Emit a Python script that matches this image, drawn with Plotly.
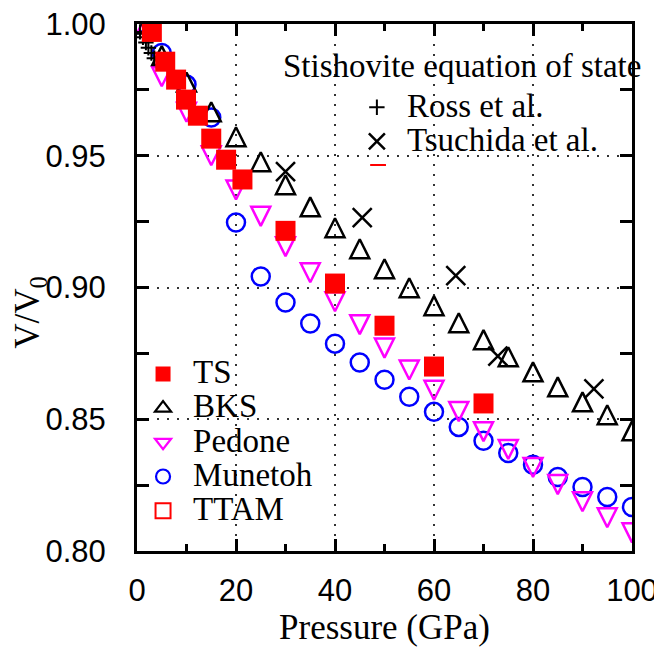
import plotly.graph_objects as go

# ---------------- data ----------------
P_TS = [3.0, 5.7, 7.9, 9.9, 12.3, 15.0, 18.0, 21.3, 30.0, 40.0, 50.0, 60.0, 70.0]
V_TS = [0.997, 0.9857, 0.9789, 0.9713, 0.9652, 0.9565, 0.9485, 0.941, 0.9215, 0.9015, 0.8855, 0.870, 0.856]

P_GRID = [0, 5, 10, 15, 20, 25, 30, 35, 40, 45, 50, 55, 60, 65, 70, 75, 80, 85, 90, 95, 100]
V_BKS = [1.0, 0.988, 0.978, 0.9667, 0.9572, 0.9477, 0.939, 0.9306, 0.9227, 0.9147, 0.9071,
         0.8999, 0.8931, 0.8866, 0.8802, 0.8737, 0.868, 0.8623, 0.8566, 0.8517, 0.8456]
V_PEDONE = [1.0, 0.980, 0.9665, 0.950, 0.937, 0.927, 0.9155, 0.9056, 0.8946, 0.8859, 0.877,
            0.8687, 0.861, 0.8529, 0.8453, 0.8385, 0.8317, 0.8252, 0.8187, 0.8126, 0.8069]
V_MUNETOH = [1.0, 0.989, 0.977, 0.9645, 0.9247, 0.9042, 0.8943, 0.8863, 0.8787, 0.8715, 0.865,
             0.8585, 0.8528, 0.8471, 0.8418, 0.8372, 0.8327, 0.8281, 0.8243, 0.8205, 0.8167]

P_ROSS = [0.6, 1.2, 1.8, 2.3, 2.9, 3.5]
V_ROSS = [0.997, 0.995, 0.993, 0.991, 0.989, 0.987]

P_TSUCHIDA = [30.0, 45.5, 64.4, 72.9, 92.3]
V_TSUCHIDA = [0.944, 0.9265, 0.9045, 0.874, 0.8615]

X_TICKS = [0, 20, 40, 60, 80, 100]
X_MINOR = [10, 30, 50, 70, 90]
Y_TICKS = [0.80, 0.85, 0.90, 0.95, 1.00]
Y_TICK_TEXT = ["0.80", "0.85", "0.90", "0.95", "1.00"]
Y_MINOR = [0.825, 0.875, 0.925, 0.975]

SERIF = "Liberation Serif"
SANS = "Liberation Sans"


def lbl(t):
    return '<span style="font-size:33px">' + t + '</span>'


fig = go.Figure()

# ---- data traces (drawing order: Munetoh, Pedone, BKS, Ross, Tsuchida, TS) ----
fig.add_trace(go.Scatter(
    x=P_GRID, y=V_MUNETOH, mode="markers", name="Munetoh", showlegend=False,
    marker=dict(symbol="circle-open", size=18, color="#0000ff", line=dict(width=2.5, color="#0000ff")),
))
fig.add_trace(go.Scatter(
    x=P_GRID, y=V_PEDONE, mode="markers", name="Pedone", showlegend=False,
    marker=dict(symbol="arrow-down-open", size=19, angle=0, standoff=9.5, color="#ff00ff",
                line=dict(width=2.5, color="#ff00ff")),
))
fig.add_trace(go.Scatter(
    x=P_GRID, y=V_BKS, mode="markers", name="BKS", showlegend=False,
    marker=dict(symbol="arrow-down-open", size=19, angle=180, standoff=9.5, color="black",
                line=dict(width=2.5, color="black")),
))
fig.add_trace(go.Scatter(
    x=P_ROSS, y=V_ROSS, mode="markers", name=lbl("Ross et al."), legend="legend2", legendrank=1,
    marker=dict(symbol="cross-thin-open", size=11, color="black", line=dict(width=2, color="black")),
))
fig.add_trace(go.Scatter(
    x=P_TSUCHIDA, y=V_TSUCHIDA, mode="markers", name=lbl("Tsuchida et al."), legend="legend2", legendrank=2,
    marker=dict(symbol="x-thin-open", size=19, color="black", line=dict(width=2.5, color="black")),
))
fig.add_trace(go.Scatter(
    x=P_TS, y=V_TS, mode="markers", name="TS", showlegend=False,
    marker=dict(symbol="square", size=20, color="#ff0000", line=dict(width=0)),
))

# ---- legend keys (no data of their own) ----
fig.add_trace(go.Scatter(
    x=[None], y=[None], mode="markers", name=lbl("TS"), legendrank=1,
    marker=dict(symbol="square", size=15, color="#ff0000", line=dict(width=0)),
))
fig.add_trace(go.Scatter(
    x=[None], y=[None], mode="markers", name=lbl("BKS"), legendrank=2,
    marker=dict(symbol="triangle-up-open", size=14, color="black", line=dict(width=2.2, color="black")),
))
fig.add_trace(go.Scatter(
    x=[None], y=[None], mode="markers", name=lbl("Pedone"), legendrank=3,
    marker=dict(symbol="triangle-down-open", size=14, color="#ff00ff", line=dict(width=2.2, color="#ff00ff")),
))
fig.add_trace(go.Scatter(
    x=[None], y=[None], mode="markers", name=lbl("Munetoh"), legendrank=4,
    marker=dict(symbol="circle-open", size=14, color="#0000ff", line=dict(width=2.2, color="#0000ff")),
))
fig.add_trace(go.Scatter(
    x=[None], y=[None], mode="markers", name=lbl("TTAM"), legendrank=5,
    marker=dict(symbol="square-open", size=15, color="#ff0000", line=dict(width=2, color="#ff0000")),
))

axis_common = dict(
    showline=True, linewidth=3, linecolor="black", mirror="allticks",
    ticks="inside", ticklen=12, tickwidth=2.5, tickcolor="black",
    showgrid=True, gridcolor="#333333", gridwidth=1.5, griddash="2px,8px",
    zeroline=False, ticklabeloverflow="allow",
)

fig.update_xaxes(
    range=[0, 100], tickmode="array", tickvals=X_TICKS,
    tickfont=dict(family=SANS, size=31, color="black"), ticklabelstandoff=10,
    minor=dict(tickmode="array", tickvals=X_MINOR, ticks="inside", ticklen=7, tickwidth=2.5,
               tickcolor="black", showgrid=False),
    title=dict(text="Pressure (GPa)", font=dict(family=SERIF, size=35, color="black"), standoff=8),
    **axis_common,
)
fig.update_yaxes(
    range=[0.80, 1.00], tickmode="array", tickvals=Y_TICKS, ticktext=Y_TICK_TEXT,
    tickfont=dict(family=SANS, size=31, color="black"), ticklabelstandoff=22,
    minor=dict(tickmode="array", tickvals=Y_MINOR, ticks="inside", ticklen=12, tickwidth=2.5,
               tickcolor="black", showgrid=False),
    **axis_common,
)

legend_common = dict(
    xanchor="left", yanchor="top", bgcolor="rgba(0,0,0,0)", borderwidth=0,
    font=dict(family=SERIF, size=24, color="black"), itemwidth=50,
    tracegroupgap=0, traceorder="normal",
)

fig.update_layout(
    width=654, height=639,
    margin=dict(l=129, r=30, t=16, b=96, autoexpand=False),
    paper_bgcolor="white", plot_bgcolor="white",
    showlegend=True,
    legend=dict(x=-0.008, y=0.378, **legend_common),
    legend2=dict(x=0.424, y=0.884, **legend_common),
    annotations=[
        dict(
            text="Stishovite equation of state", xref="paper", yref="paper",
            x=1.022, y=0.92, xanchor="right", yanchor="middle", showarrow=False,
            font=dict(family=SERIF, size=33, color="black"),
        ),
        dict(
            text="V/V<sub>0</sub>", xref="paper", yref="paper", textangle=-90,
            x=-0.217, y=0.453, xanchor="center", yanchor="middle", showarrow=False,
            font=dict(family=SERIF, size=35, color="black"),
        ),
    ],
    shapes=[dict(type="line", xref="paper", yref="paper", x0=0.471, x1=0.503, y0=0.7324, y1=0.7324,
                 line=dict(color="#ff0000", width=2))],
)

fig.write_html("out.html")
